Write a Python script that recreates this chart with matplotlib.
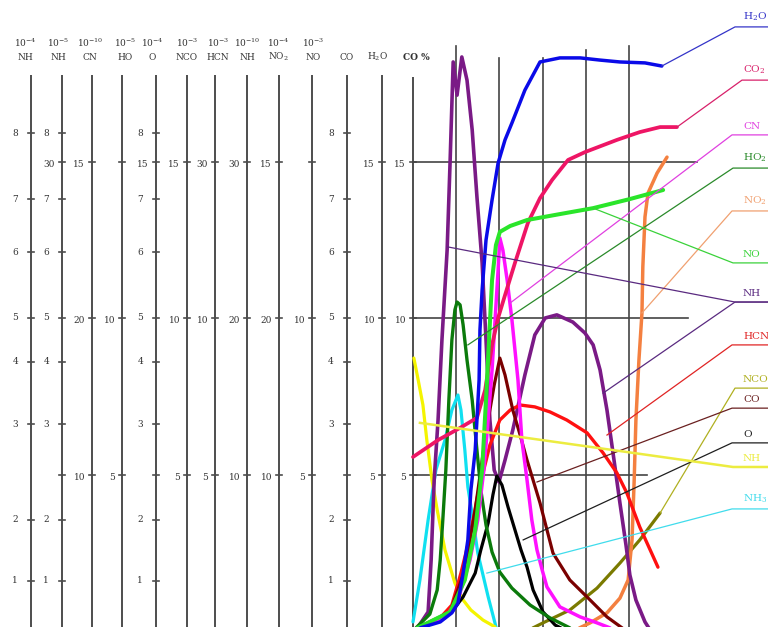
import matplotlib
matplotlib.use("Agg")
import matplotlib.pyplot as plt

plt.rcParams["font.family"] = ["DejaVu Serif"]
plt.rcParams["mathtext.fontset"] = "dejavuserif"

# ---- curves: x in grid divisions from the CO % axis, y in CO % ----
nh_x = [0.12, 0.35, 0.42, 0.49, 0.58, 0.67, 0.79, 0.86, 0.93, 1.02, 1.13, 1.25, 1.37, 1.48,
        1.60, 1.69, 1.78, 1.88, 1.99, 2.13, 2.31, 2.59, 2.82, 3.06, 3.33, 3.70, 3.98, 4.17,
        4.33, 4.49, 4.63, 4.79, 4.93, 5.02, 5.16, 5.37, 5.49]
nh_y = [0.13, 0.61, 2.27, 4.82, 6.74, 9.30, 12.17, 15.05, 18.18, 17.12, 18.34, 17.60, 16.01,
        13.87, 11.76, 9.30, 6.74, 5.14, 4.76, 5.46, 6.42, 8.18, 9.46, 10.00, 10.10, 9.87, 9.52,
        9.14, 8.34, 7.06, 5.69, 4.09, 2.75, 1.79, 0.99, 0.29, 0.03]

h2o_x = [0.00, 0.63, 0.90, 1.04, 1.16, 1.27, 1.34, 1.44, 1.48, 1.53, 1.55, 1.60, 1.69, 1.83,
         1.97, 2.13, 2.29, 2.59, 2.94, 3.40, 3.87, 4.33, 4.79, 5.37, 5.76]
h2o_y = [0.03, 0.29, 0.58, 0.89, 1.85, 2.91, 4.50, 5.78, 6.74, 8.02, 9.62, 10.89, 12.49, 13.77,
         14.95, 15.69, 16.23, 17.28, 18.18, 18.31, 18.31, 18.24, 18.18, 18.15, 18.05]

co2_x = [0.00, 0.58, 1.09, 1.48, 1.67, 1.83, 1.97, 2.13, 2.36, 2.66, 2.94, 3.22, 3.59, 3.98,
         4.72, 5.25, 5.72, 6.11]
co2_y = [5.56, 6.10, 6.49, 6.81, 7.70, 9.14, 10.00, 10.73, 11.76, 13.04, 13.83, 14.41, 15.05,
         15.30, 15.69, 15.94, 16.10, 16.10]

cn_x = [0.00, 0.74, 1.04, 1.32, 1.50, 1.64, 1.74, 1.83, 1.90, 1.97, 2.01, 2.08, 2.18, 2.29,
        2.43, 2.52, 2.64, 2.75, 2.87, 2.99, 3.10, 3.40, 3.87, 4.26, 4.56]
cn_y = [0.03, 0.42, 0.99, 2.27, 3.55, 5.14, 6.74, 8.34, 9.94, 11.53, 12.56, 12.17, 11.21, 9.94,
        8.02, 6.10, 4.82, 3.55, 2.59, 1.95, 1.41, 0.77, 0.45, 0.26, 0.10]

ho2_x = [0.07, 0.39, 0.56, 0.63, 0.69, 0.76, 0.83, 0.90, 0.97, 1.02, 1.09, 1.16, 1.25, 1.37,
         1.48, 1.57, 1.69, 1.83, 2.01, 2.29, 2.71, 3.17, 3.63]
ho2_y = [0.10, 0.54, 1.31, 2.27, 3.55, 5.14, 7.38, 9.30, 10.26, 10.51, 10.42, 9.78, 8.66, 7.38,
         5.78, 4.50, 3.39, 2.52, 1.88, 1.37, 0.83, 0.42, 0.10]

no_x = [0.00, 0.86, 1.20, 1.44, 1.60, 1.69, 1.76, 1.83, 1.92, 2.01, 2.25, 2.64, 3.40, 4.17,
        5.02, 5.79]
no_y = [0.03, 0.61, 1.63, 3.23, 5.14, 7.38, 9.30, 11.21, 12.33, 12.75, 12.94, 13.13, 13.32,
        13.51, 13.80, 14.09]

no2_x = [3.75, 4.10, 4.49, 4.79, 4.98, 5.07, 5.12, 5.16, 5.23, 5.30, 5.32, 5.37, 5.44, 5.65, 5.88]
no2_y = [0.03, 0.26, 0.58, 1.05, 1.63, 2.91, 4.82, 6.74, 8.66, 10.16, 11.63, 13.23, 13.99,
         14.63, 15.14]

hcn_x = [0.00, 0.63, 0.90, 1.11, 1.27, 1.39, 1.50, 1.62, 1.78, 2.01, 2.25, 2.48, 2.82, 3.17,
         3.56, 4.03, 4.40, 4.72, 4.95, 5.25, 5.49, 5.67]
hcn_y = [0.03, 0.42, 0.83, 1.85, 2.75, 3.55, 4.35, 5.05, 5.94, 6.74, 7.06, 7.22, 7.16, 7.00,
         6.74, 6.33, 5.69, 5.05, 4.41, 3.32, 2.59, 2.04]

nco_x = [2.59, 3.01, 3.63, 4.26, 4.79, 5.25, 5.72]
nco_y = [-0.03, 0.26, 0.67, 1.37, 2.17, 2.91, 3.77]

co_x = [0.00, 0.86, 1.20, 1.44, 1.60, 1.74, 1.88, 2.01, 2.13, 2.31, 2.48, 2.64, 2.94, 3.24,
        3.63, 4.10, 4.49, 4.91]
co_y = [0.03, 0.61, 1.95, 3.87, 5.46, 6.74, 7.86, 8.72, 8.18, 7.06, 6.26, 5.46, 4.09, 2.49,
        1.63, 0.99, 0.45, 0.03]

o_x = [0.00, 0.63, 0.88, 1.16, 1.44, 1.57, 1.74, 1.85, 1.94, 2.06, 2.20, 2.36, 2.50, 2.64,
       2.78, 3.01, 3.29, 3.52]
o_y = [0.03, 0.35, 0.58, 1.09, 1.85, 2.59, 3.45, 4.35, 4.95, 4.66, 3.96, 3.23, 2.59, 2.04,
       1.31, 0.61, 0.19, 0.03]

nh3_x = [0.00, 0.16, 0.35, 0.53, 0.74, 0.90, 1.04, 1.11, 1.20, 1.27, 1.39, 1.50, 1.74, 1.94]
nh3_y = [0.29, 1.63, 3.55, 5.14, 6.10, 7.06, 7.54, 7.06, 5.78, 4.60, 3.55, 2.49, 1.09, 0.03]

nh2_x = [0.02, 0.12, 0.23, 0.32, 0.44, 0.56, 0.74, 0.97, 1.16, 1.34, 1.62, 1.90]
nh2_y = [8.72, 8.02, 7.22, 6.10, 4.82, 3.87, 2.59, 1.53, 0.99, 0.67, 0.35, 0.13]

# ---- labels on the right and the curve points their leaders start from ----
label_names = ["H$_2$O", "CO$_2$", "CN", "HO$_2$", "NO$_2$", "NO", "NH", "HCN", "NCO", "CO",
               "O", "NH", "NH$_3$"]
label_levels = [19.30, 17.60, 15.85, 14.79, 13.42, 11.76, 10.51, 9.14, 7.76, 7.12, 6.01, 5.24, 3.90]
leader_from = [[(5.76, 18.05)], [(6.11, 16.10)], [(2.25, 10.48)], [(1.27, 9.14)],
               [(5.30, 10.16)], [(4.17, 13.51)], [(0.81, 12.27), (4.40, 7.60)],
               [(4.49, 6.26)], [(5.72, 3.77)], [(2.87, 4.76)], [(2.55, 2.91)],
               [(0.16, 6.65)], [(1.71, 1.85)]]

# ---- hand drawn side scales ----
scale_heads = ["NH", "NH", "CN", "HO", "O", "NCO", "HCN", "NH", "NO$_2$", "NO", "CO", "H$_2$O"]
scale_powers = ["-4", "-5", "-10", "-5", "-4", "-3", "-3", "-10", "-4", "-3", None, None]
digit_levels = [1.60, 3.55, 6.60, 8.60, 10.00, 12.10, 13.80, 15.90]   # where 1..8 sit
scale_pct = [  # labels at the 15 / 10 / 5 % levels ("" = tick only, None = nothing)
    [None, None, None],
    ["30", None, ""],
    ["15", "20", "10"],
    ["", "10", "5"],
    ["15", None, ""],
    ["15", "10", "5"],
    ["30", "10", "5"],
    ["30", "20", "10"],
    ["15", "20", "10"],
    ["", "10", "5"],
    [None, None, ""],
    ["15", "10", "5"],
    ["15", "10", "5"],
]
scale_digits = [True, True, False, False, True, False, False, False, False, False, True, False, False]

# ---- pixel layout of the scanned sheet ----
X0, XU, Y0, YU = 413, 43.2, 631, 31.3


def px_x(p):
    return (p - X0) / XU


def px_y(p):
    return (Y0 - p) / YU


fig = plt.figure(figsize=(7.68, 6.27), dpi=100)
ax = fig.add_axes([0, 0, 1, 1])
ax.set_xlim(px_x(0), px_x(768))
ax.set_ylim(px_y(627), px_y(0))
ax.axis("off")

axis_gray = "#4d4d4d"
txt_gray = "#333333"
scale_px = [31, 62, 92, 122, 156, 187, 215, 247, 279, 312, 347, 382, 413]
head_px = [25, 58, 90, 125, 152, 187, 218, 247, 278, 313, 347, 378]
tick = 3 / XU

for i, sx in enumerate(scale_px):
    x = px_x(sx)
    top = px_y(77) if i == len(scale_px) - 1 else px_y(75)
    ax.plot([x, x], [-1, top], color=axis_gray, lw=1.4, solid_capstyle="butt")
    if scale_digits[i]:
        for d, lev in enumerate(digit_levels, start=1):
            ax.plot([x - tick, x + tick], [lev, lev], color=axis_gray, lw=1.2)
            ax.text(x - 13 / XU, lev, str(d), ha="right", va="center", fontsize=6.5, color=txt_gray)
    for lab, lev in zip(scale_pct[i], [15, 10, 5]):
        if lab is None:
            continue
        ax.plot([x - tick, x + tick], [lev, lev], color=axis_gray, lw=1.2)
        if lab:
            ax.text(x - 7 / XU, lev - 0.08, lab, ha="right", va="center", fontsize=6.5,
                    color=txt_gray)

for i, hx in enumerate(head_px):
    x = px_x(hx)
    if scale_powers[i] is not None:
        ax.text(x, px_y(43), "10$^{%s}$" % scale_powers[i], ha="center", va="center",
                fontsize=6.5, color=txt_gray)
    ax.text(x, px_y(57), scale_heads[i], ha="center", va="center", fontsize=6.5, color=txt_gray)
ax.text(px_x(416), px_y(57), "CO %", ha="center", va="center", fontsize=6.5, color=txt_gray,
        fontweight="bold")

# ---- grid of the main chart ----
grid_c = "#444444"
for gx, gtop in zip([1, 2, 3, 4, 5], [18.69, 18.31, 18.31, 18.56, 18.69]):
    ax.plot([gx, gx], [-1, gtop], color=grid_c, lw=1.2)
for gy, gend in zip([15, 10, 5], [6.57, 6.37, 5.42]):
    ax.plot([0, gend], [gy, gy], color=grid_c, lw=1.2)

# ---- curves ----
curves = [
    (nh3_x, nh3_y, "#10e0f0", 2.3),
    (nh2_x, nh2_y, "#f4f400", 2.3),
    (nco_x, nco_y, "#7a7a00", 2.3),
    (no2_x, no2_y, "#f48040", 2.5),
    (nh_x, nh_y, "#7a1a86", 2.6),
    (hcn_x, hcn_y, "#ff1010", 2.4),
    (co_x, co_y, "#7a0000", 2.3),
    (o_x, o_y, "#000000", 2.3),
    (ho2_x, ho2_y, "#0b7a0b", 2.4),
    (cn_x, cn_y, "#ff10ff", 2.5),
    (co2_x, co2_y, "#ee1565", 2.7),
    (no_x, no_y, "#2ae52a", 2.9),
    (h2o_x, h2o_y, "#0a0ae8", 2.5),
]
for cx, cy, col, lw in curves:
    ax.plot(cx, cy, color=col, lw=lw, solid_joinstyle="round", solid_capstyle="round")

# ---- leaders and labels ----
label_colors = ["#3434c8", "#d8206a", "#e040e0", "#2a8a2a", "#f0a070", "#3ad23a", "#5a2a80",
                "#e02424", "#b0b020", "#6a2020", "#1e1e1e", "#ecec40", "#40dcec"]
bend_px = [735, 742, 732, 733, 732, 733, 735, 732, 735, 732, 732, 733, 732]
for name, lev, starts, col, bx in zip(label_names, label_levels, leader_from, label_colors, bend_px):
    lw = 1.8 if col == "#ecec40" else 0.9
    for sx, sy in starts:
        ax.plot([sx, px_x(bx), px_x(770)], [sy, lev, lev], color=col, lw=lw)
    ax.text(px_x(743), lev + 0.12, name, ha="left", va="bottom", fontsize=7.5, color=col)

fig.savefig("out.png", dpi=100)
